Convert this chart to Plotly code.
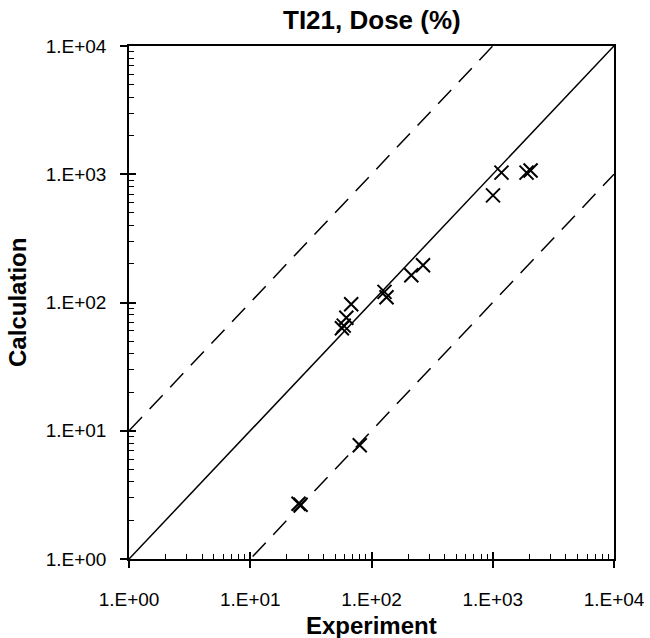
import plotly.graph_objects as go

# Data
experiment = [25, 26, 80, 57, 59, 62, 68, 128, 133, 213, 266, 1005, 1180, 1900, 2050]
calculation = [2.7, 2.65, 7.7, 63, 66, 76, 97, 121, 110, 163, 195, 684, 1030, 1030, 1070]

# Reference lines: y = x, y = 10x, y = x/10
line_x = [1, 10000]
ratio_factors = [1, 10, 0.1]

decades = [1, 10, 100, 1000, 10000]
decade_labels = ["1.E+00", "1.E+01", "1.E+02", "1.E+03", "1.E+04"]
minor_vals = [m * d for d in [1, 10, 100, 1000] for m in range(2, 10)]

FONT = "Liberation Sans, Arial, sans-serif"

fig = go.Figure()

for f in ratio_factors:
    xs = [line_x[0], line_x[1]]
    ys = [v * f for v in xs]
    fig.add_trace(go.Scatter(
        x=xs, y=ys, mode="lines",
        line=dict(color="black", width=1.5,
                  dash="solid" if f == 1 else "19px,11px"),
        hoverinfo="skip", showlegend=False))

fig.add_trace(go.Scatter(
    x=experiment, y=calculation, mode="markers",
    marker=dict(symbol="x-thin-open", size=14, color="black",
                line=dict(color="black", width=2)),
    showlegend=False))

axis_common = dict(
    type="log", range=[0, 4], automargin=False,
    showgrid=False, zeroline=False,
    showline=True, linecolor="black", linewidth=1.5, mirror=True,
    tickmode="array", tickvals=decades, ticktext=decade_labels,
    ticks="outside", ticklen=7, tickwidth=1.5, tickcolor="black",
    tickfont=dict(family=FONT, size=19, color="black"),
    minor=dict(tickmode="array", tickvals=minor_vals, ticks="inside",
               ticklen=5, tickwidth=1, tickcolor="black", showgrid=False),
)

fig.update_layout(
    template="none",
    width=650, height=638,
    margin=dict(l=129, r=36, t=46, b=79, autoexpand=False),
    paper_bgcolor="white", plot_bgcolor="white",
    xaxis=dict(**axis_common, ticklabelstandoff=15),
    yaxis=dict(**axis_common, ticklabelstandoff=10),
    # overlay axes to give the decade ticks their inside half
    xaxis2=dict(type="log", range=[0, 4], overlaying="x", side="bottom",
                showgrid=False, zeroline=False, showline=False,
                tickmode="array", tickvals=decades, ticks="inside",
                ticklen=7, tickwidth=1.5, tickcolor="black",
                showticklabels=False, anchor="y", automargin=False),
    yaxis2=dict(type="log", range=[0, 4], overlaying="y", side="left",
                showgrid=False, zeroline=False, showline=False,
                tickmode="array", tickvals=decades, ticks="inside",
                ticklen=7, tickwidth=1.5, tickcolor="black",
                showticklabels=False, anchor="x", automargin=False),
    annotations=[
        dict(text="<b>TI21, Dose (%)</b>", xref="paper", yref="paper",
             x=0.5, y=1.0507, xanchor="center", yanchor="middle",
             showarrow=False, font=dict(family=FONT, size=26, color="black")),
        dict(text="<b>Experiment</b>", xref="paper", yref="paper",
             x=0.501, y=-0.1287, xanchor="center", yanchor="middle",
             showarrow=False, font=dict(family=FONT, size=24, color="black")),
        dict(text="<b>Calculation</b>", xref="paper", yref="paper",
             x=-0.2289, y=0.501, xanchor="center", yanchor="middle",
             textangle=-90, showarrow=False,
             font=dict(family=FONT, size=24, color="black")),
    ],
)

# invisible trace to activate the overlay axes
fig.add_trace(go.Scatter(x=[1], y=[1], xaxis="x2", yaxis="y2", mode="markers",
                         marker=dict(opacity=0), hoverinfo="skip",
                         showlegend=False))

fig.write_html("out.html")
